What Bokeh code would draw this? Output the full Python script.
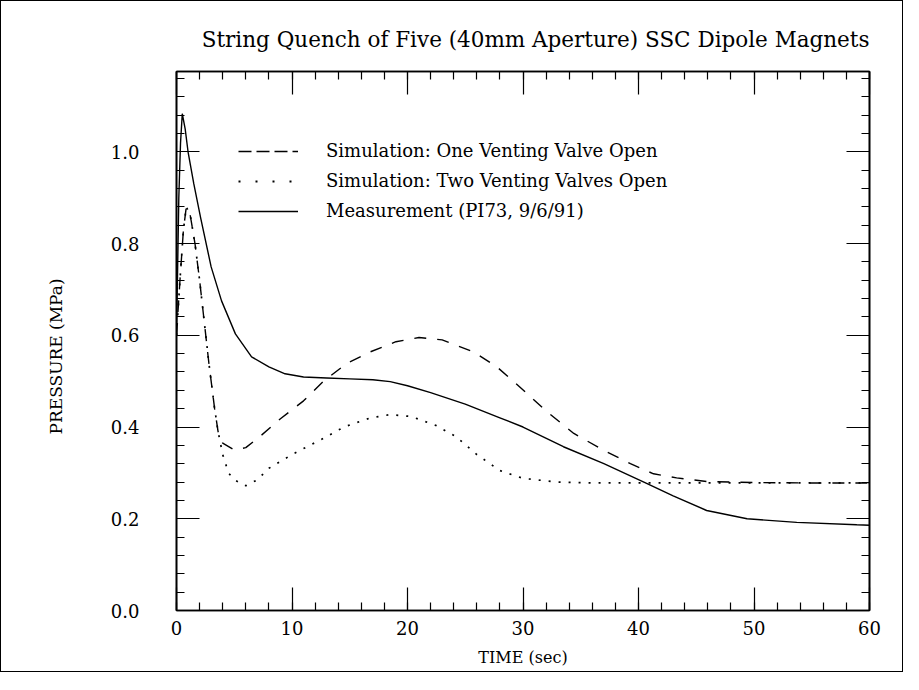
from bokeh.plotting import figure
from bokeh.models import (SingleIntervalTicker, LinearAxis, Range1d, Legend, LegendItem,
                          CustomJSTickFormatter, Title)
from bokeh.embed import file_html
from bokeh.resources import INLINE

# ---- data ----
t_meas = [0, 0.1, 0.2, 0.35, 0.5, 0.75, 1.0, 1.5, 2.1, 3.0, 3.9, 5.1, 6.5, 8.0, 9.4, 11, 13, 15,
          17, 18.5, 20, 22, 25, 28, 30, 33.5, 37, 40.7, 43, 45.9, 49.4, 53.7, 58.9, 60]
p_meas = [0.60, 0.75, 0.90, 1.02, 1.083, 1.05, 1.0, 0.93, 0.855, 0.749, 0.675, 0.603, 0.553,
          0.531, 0.516, 0.509, 0.507, 0.505, 0.503, 0.499, 0.49, 0.475, 0.45, 0.42, 0.40, 0.357,
          0.32, 0.277, 0.25, 0.218, 0.20, 0.192, 0.187, 0.186]

t_one = [0, 0.3, 0.6, 0.85, 1.2, 1.6, 2.0, 2.4, 2.8, 3.0, 3.3, 3.6, 4.0, 5.0, 6.0, 7.3, 9.0, 11.0,
         12.7, 14.7, 16.8, 19.0, 21.0, 23.0, 25.7, 27.7, 29.6, 32.0, 34.4, 37.0, 39.3, 41.3, 43.3,
         46.0, 50.0, 55.0, 60.0]
p_one = [0.60, 0.72, 0.83, 0.88, 0.86, 0.80, 0.72, 0.63, 0.54, 0.50, 0.44, 0.39, 0.365, 0.35,
         0.355, 0.381, 0.418, 0.457, 0.499, 0.538, 0.564, 0.586, 0.595, 0.59, 0.564, 0.532, 0.49,
         0.435, 0.386, 0.349, 0.32, 0.298, 0.289, 0.281, 0.279, 0.278, 0.278]

t_two = [0, 0.3, 0.6, 0.85, 1.2, 1.6, 2.0, 2.4, 2.8, 3.0, 3.3, 3.6, 4.0, 4.5, 5.0, 6.0, 7.0, 8.0,
         10.0, 12.7, 14.5, 16.8, 18.5, 20.3, 22.5, 24.2, 26.0, 28.0, 30.0, 33.0, 36.0, 45.0, 60.0]
p_two = [0.60, 0.72, 0.83, 0.88, 0.86, 0.80, 0.72, 0.63, 0.54, 0.50, 0.44, 0.39, 0.34, 0.30,
         0.285, 0.272, 0.285, 0.31, 0.34, 0.375, 0.40, 0.42, 0.427, 0.423, 0.403, 0.379, 0.34,
         0.305, 0.288, 0.28, 0.278, 0.278, 0.278]

title_text = "String Quench of Five (40mm Aperture) SSC Dipole Magnets"
labels = ["Simulation: One Venting Valve Open",
          "Simulation: Two Venting Valves Open",
          "Measurement (PI73, 9/6/91)"]
x_label = "TIME (sec)"
y_label = "PRESSURE (MPa)"
legend_placeholder = [float("nan")]

FONT = "DejaVu Serif"

p = figure(width=903, height=672, output_backend="svg", toolbar_location=None,
           x_range=Range1d(0, 60), y_range=Range1d(0, 1.175),
           min_border_left=175, min_border_right=35, min_border_top=70, min_border_bottom=63)
p.styles = {"border": "1px solid black", "box-sizing": "border-box"}
p.grid.visible = False
p.outline_line_color = "black"
p.outline_line_width = 1.6

# main curves
p.line(t_one, p_one, line_color="black", line_width=1.4, line_dash="12 11")
p.line(t_two, p_two, line_color="black", line_width=1.7, line_dash="2 8")
p.line(t_meas, p_meas, line_color="black", line_width=1.4)

# legend-only renderers (nothing drawn in the plot area)
r1 = p.line(legend_placeholder, legend_placeholder, line_color="black", line_width=1.4, line_dash="13 5")
r2 = p.line(legend_placeholder, legend_placeholder, line_color="black", line_width=1.8, line_dash="2 15")
r3 = p.line(legend_placeholder, legend_placeholder, line_color="black", line_width=1.4)

legend = Legend(items=[LegendItem(label=labels[0], renderers=[r1]),
                       LegendItem(label=labels[1], renderers=[r2]),
                       LegendItem(label=labels[2], renderers=[r3])],
                location=(62, 389), padding=0, spacing=9, glyph_width=60, glyph_height=20,
                label_height=20, label_standoff=28, border_line_color=None,
                background_fill_alpha=0, label_text_font=FONT, label_text_font_size="18px",
                label_text_color="black")
p.add_layout(legend, "center")

xt = SingleIntervalTicker(interval=10, num_minor_ticks=5)
yt = SingleIntervalTicker(interval=0.2, num_minor_ticks=5)

def style_axis(ax):
    ax.axis_line_color = "black"
    ax.axis_line_width = 1.6
    ax.major_tick_in = 23
    ax.major_tick_out = 0
    ax.minor_tick_in = 8
    ax.minor_tick_out = 0
    ax.major_tick_line_color = "black"
    ax.minor_tick_line_color = "black"
    ax.major_tick_line_width = 1.2
    ax.minor_tick_line_width = 1.2
    ax.major_label_text_font = FONT
    ax.major_label_text_font_size = "18px"
    ax.major_label_text_color = "black"
    ax.axis_label_text_font = FONT
    ax.axis_label_text_font_size = "16px"
    ax.axis_label_text_font_style = "normal"
    ax.axis_label_text_color = "black"

xa = p.xaxis[0]
xa.ticker = xt
xa.axis_label = x_label
xa.major_label_standoff = 10
xa.axis_label_standoff = 10
style_axis(xa)

ya = p.yaxis[0]
ya.ticker = yt
ya.formatter = CustomJSTickFormatter(code="return tick.toFixed(1);")
ya.major_label_standoff = 37
style_axis(ya)

blank = CustomJSTickFormatter(code="return '';")
top = LinearAxis(ticker=xt, formatter=blank, major_label_standoff=0)
style_axis(top)
right = LinearAxis(ticker=yt, formatter=blank, major_label_standoff=0)
style_axis(right)
p.add_layout(top, "above")
p.add_layout(right, "right")

# y-axis label as a left title so it can be nudged along the axis
p.add_layout(Title(text=y_label, align="left", offset=176, text_font=FONT,
                   text_font_size="17px", text_font_style="normal", text_color="black",
                   standoff=84), "left")

p.add_layout(Title(text=title_text, align="right", text_font=FONT, text_font_size="21.5px",
                   text_font_style="normal", text_color="black", standoff=40), "above")

open("out.html", "w").write(file_html(p, INLINE))
